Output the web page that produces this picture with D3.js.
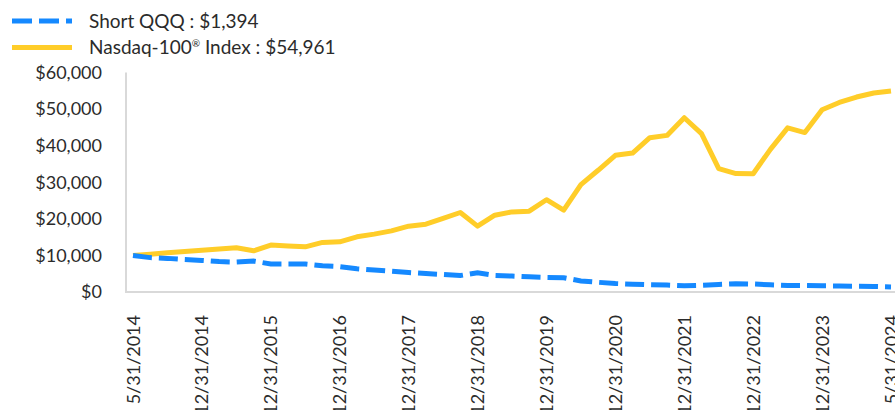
<!DOCTYPE html>
<html>
<head>
<meta charset="utf-8">
<script src="https://cdn.jsdelivr.net/npm/d3@7"></script>
<style>
  html, body { margin: 0; padding: 0; background: #fff; }
  svg { display: block; font-family: Lato, "Open Sans", sans-serif; }
</style>
</head>
<body>
<div id="chart"></div>
<script>
(function () {
  "use strict";

  // ── Datos (valor de $10,000, trimestral) ──────────────
  const tickLabels = ["5/31/2014", "12/31/2014", "12/31/2015", "12/31/2016", "12/31/2017", "12/31/2018",
    "12/31/2019", "12/31/2020", "12/31/2021", "12/31/2022", "12/31/2023", "5/31/2024"];
  const tickIndex = [0, 4, 8, 12, 16, 20, 24, 28, 32, 36, 40, 44];

  const shortQQQ = [10000, 9400, 9190, 8860, 8640, 8320, 8180, 8450, 7640, 7640, 7640, 7150, 6950,
    6350, 6000, 5670, 5320, 5040, 4770, 4500, 5260, 4550, 4360, 4150, 4000, 3900, 3000, 2650, 2320,
    2130, 1990, 1910, 1720, 1830, 2050, 2240, 2180, 1960, 1800, 1770, 1690, 1640, 1580, 1530, 1394];

  const nasdaq100 = [10000, 10350, 10700, 11050, 11400, 11750, 12080, 11260, 12820, 12600, 12350, 13550, 13720,
    15080, 15820, 16720, 18000, 18540, 20100, 21730, 18000, 21000, 21900, 22090, 25220, 22360, 29370, 33270, 37360,
    37990, 42190, 42810, 47640, 43280, 33730, 32370, 32310, 39000, 44860, 43580, 49820, 51810, 53300, 54400, 54961];

  const yTicks = [0, 10000, 20000, 30000, 40000, 50000, 60000];

  const BLUE = "#1589ff";
  const YELLOW = "#ffcd29";
  const AXIS = "#d9d9d9";
  const TEXT = "#2b2b2b";

  const width = 895, height = 410;
  const fmt = (v) => "$" + d3.format(",")(v);

  const svg = d3.select("#chart").append("svg").attr("width", width).attr("height", height);

  const x = d3.scalePoint().domain(d3.range(nasdaq100.length)).range([133, 891]);
  const y = d3.scaleLinear().domain([0, 60000]).range([292, 72.5]);

  // Ejes
  svg.append("line").attr("x1", 126).attr("x2", 126).attr("y1", y(60000)).attr("y2", y(0) + 1)
    .attr("stroke", AXIS).attr("stroke-width", 2);
  svg.append("line").attr("x1", 125).attr("x2", width).attr("y1", y(0)).attr("y2", y(0))
    .attr("stroke", AXIS).attr("stroke-width", 2);

  svg.append("g").selectAll("text").data(yTicks).join("text")
    .attr("x", 102).attr("y", (d) => y(d)).attr("dy", "0.35em")
    .attr("text-anchor", "end").attr("font-size", "18px").attr("fill", TEXT)
    .text(fmt);

  svg.append("g").selectAll("text").data(tickIndex).join("text")
    .attr("transform", (d) => `translate(${x(d) + 6.5},315) rotate(-90)`)
    .attr("text-anchor", "end").attr("font-size", "18px").attr("fill", TEXT)
    .text((d, i) => tickLabels[i]);

  // Líneas
  const line = d3.line().x((d, i) => x(i)).y((d) => y(d));

  svg.append("path").attr("d", line(nasdaq100)).attr("fill", "none")
    .attr("stroke", YELLOW).attr("stroke-width", 5).attr("stroke-linejoin", "round");

  svg.append("path").attr("d", line(shortQQQ)).attr("fill", "none")
    .attr("stroke", BLUE).attr("stroke-width", 5).attr("stroke-dasharray", "19,7");

  // Leyenda
  const legend = svg.append("g");
  legend.append("line").attr("x1", 12).attr("x2", 72).attr("y1", 21).attr("y2", 21)
    .attr("stroke", BLUE).attr("stroke-width", 5).attr("stroke-dasharray", "20,7");
  legend.append("text").attr("x", 89).attr("y", 21).attr("dy", "0.35em")
    .attr("font-size", "19px").attr("fill", TEXT).text("Short QQQ : $1,394");

  legend.append("line").attr("x1", 12).attr("x2", 72).attr("y1", 47.5).attr("y2", 47.5)
    .attr("stroke", YELLOW).attr("stroke-width", 5);
  const t2 = legend.append("text").attr("x", 89).attr("y", 47.5).attr("dy", "0.35em")
    .attr("font-size", "19px").attr("fill", TEXT);
  t2.append("tspan").text("Nasdaq-100");
  t2.append("tspan").attr("font-size", "10px").attr("dy", "-0.7em").text("®");
  t2.append("tspan").attr("dy", "7").text(" Index : $54,961");
})();
</script>
</body>
</html>
